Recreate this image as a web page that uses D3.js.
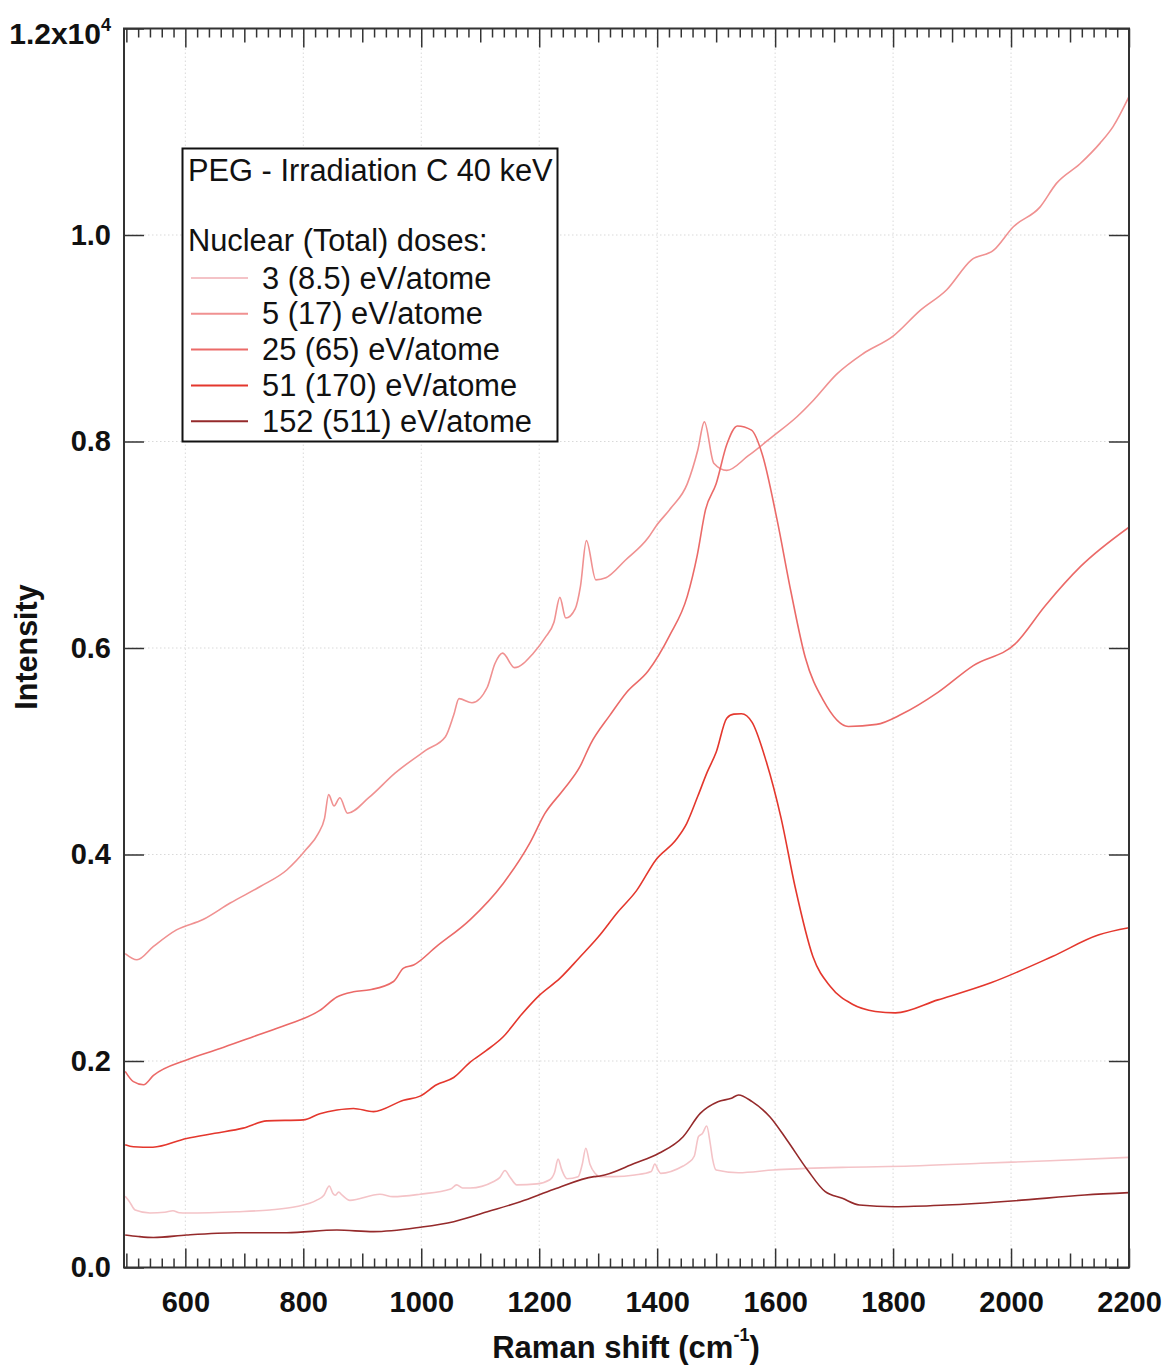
<!DOCTYPE html>
<html><head><meta charset="utf-8">
<script src="https://cdn.jsdelivr.net/npm/d3@7"></script>
<style>
body{margin:0;background:#fff;}
svg text{font-family:"Liberation Sans",Arial,Helvetica,sans-serif;}
</style>
</head><body>
<svg id="chart" width="1171" height="1367"></svg>
<script>
// ---------- DATA ----------
const legendTitle = "PEG - Irradiation C 40 keV";
const legendSubtitle = "Nuclear (Total) doses:";
const seriesLabels = ["3 (8.5) eV/atome","5 (17) eV/atome","25 (65) eV/atome","51 (170) eV/atome","152 (511) eV/atome"];
const seriesColors = ["#f4c3c7","#f09191","#eb6a68","#e4372d","#952a2b"];

const xMajorTicks = [600,800,1000,1200,1400,1600,1800,2000,2200];
const yTicks = [0,2000,4000,6000,8000,10000,12000];
const yTickLabels = ["0.0","0.2","0.4","0.6","0.8","1.0","1.2x10"];

// Raman shift (cm-1), intensity (counts)
const dose3 = [[498,690],[505,640],[515,557],[540,528],[565,535],[579,550],[590,530],[602,528],[687,540],[743,557],[789,590],[822,650],[835,700],[844,790],[850,720],[854,700],[860,730],[866,700],[879,650],[930,710],[952,686],[998,710],[1050,760],[1060,800],[1070,770],[1083,770],[1122,830],[1133,870],[1142,940],[1150,880],[1162,800],[1196,810],[1218,850],[1226,920],[1232,1050],[1238,950],[1247,860],[1266,880],[1273,1000],[1279,1155],[1286,1000],[1295,910],[1303,880],[1326,880],[1362,896],[1390,930],[1396,1002],[1402,940],[1406,912],[1444,983],[1453,1015],[1463,1080],[1470,1267],[1477,1300],[1484,1370],[1490,1200],[1494,1050],[1500,944],[1538,918],[1596,944],[1714,970],[1831,983],[1949,1009],[2066,1034],[2200,1067]];

const dose5 = [[498,3040],[518,2980],[546,3110],[585,3270],[630,3370],[676,3530],[727,3690],[772,3850],[805,4050],[825,4200],[836,4350],[843,4580],[852,4470],[862,4550],[875,4400],[911,4550],[956,4790],[1008,5010],[1041,5140],[1055,5350],[1064,5510],[1086,5470],[1112,5620],[1125,5850],[1138,5950],[1158,5810],[1190,5950],[1210,6100],[1225,6250],[1235,6490],[1245,6290],[1261,6380],[1270,6600],[1280,7040],[1296,6660],[1313,6680],[1346,6850],[1385,7070],[1398,7180],[1424,7360],[1451,7590],[1469,7920],[1480,8190],[1496,7790],[1518,7720],[1554,7860],[1596,8050],[1637,8240],[1665,8400],[1704,8650],[1749,8850],[1800,9020],[1846,9270],[1891,9470],[1933,9760],[1970,9850],[2004,10080],[2049,10270],[2077,10500],[2117,10690],[2151,10890],[2173,11050],[2200,11340]];

const dose25 = [[498,1900],[512,1800],[529,1770],[546,1860],[602,2010],[659,2120],[715,2235],[772,2350],[828,2490],[857,2620],[885,2670],[913,2690],[953,2770],[970,2900],[987,2930],[1026,3110],[1083,3370],[1139,3720],[1184,4110],[1210,4400],[1240,4620],[1269,4850],[1287,5070],[1320,5350],[1348,5570],[1385,5780],[1421,6120],[1451,6500],[1468,6900],[1482,7340],[1500,7590],[1518,7970],[1536,8150],[1560,8110],[1578,7880],[1603,7250],[1627,6540],[1651,5910],[1682,5490],[1724,5240],[1772,5260],[1815,5360],[1876,5570],[1936,5830],[2007,6040],[2058,6410],[2118,6790],[2200,7170]];

const dose51 = [[498,1190],[512,1170],[545,1165],[602,1250],[650,1300],[698,1350],[738,1420],[800,1430],[828,1490],[857,1525],[885,1540],[919,1510],[970,1620],[998,1660],[1026,1770],[1055,1840],[1083,1990],[1110,2100],[1139,2235],[1170,2450],[1201,2640],[1235,2800],[1268,3000],[1300,3200],[1333,3440],[1365,3650],[1398,3950],[1433,4150],[1450,4300],[1469,4566],[1485,4800],[1500,4990],[1518,5320],[1530,5360],[1543,5363],[1561,5280],[1585,4900],[1610,4355],[1634,3683],[1664,3012],[1694,2719],[1731,2550],[1770,2480],[1804,2466],[1876,2592],[1967,2760],[2070,3012],[2149,3222],[2200,3290]];

const dose152 = [[498,315],[520,300],[546,290],[602,315],[687,337],[772,337],[857,363],[919,347],[998,390],[1055,444],[1112,540],[1168,637],[1225,757],[1293,880],[1303,886],[1362,1009],[1403,1106],[1444,1267],[1473,1493],[1503,1606],[1526,1639],[1538,1671],[1561,1606],[1591,1460],[1620,1235],[1655,944],[1685,734],[1714,670],[1743,605],[1802,589],[1890,605],[2007,647],[2125,702],[2200,725]];

const allSeries = [dose3, dose5, dose25, dose51, dose152];

// ---------- LAYOUT ----------
const svg = d3.select("#chart");
const L = 124, R = 1129, T = 28.5, B = 1267.5;
const x = d3.scaleLinear().domain([496, 2200]).range([L, R]);
const y = d3.scaleLinear().domain([0, 12000]).range([B, T]);
const axisColor = "#333";

// grid
const grid = svg.append("g");
grid.selectAll("line.vx").data(xMajorTicks.filter(v => v < 2200)).enter().append("line")
  .attr("x1", d => x(d)).attr("x2", d => x(d)).attr("y1", T).attr("y2", B)
  .attr("stroke", "#d9d9d9").attr("stroke-width", 1).attr("stroke-dasharray", "1.5,2.5");
grid.selectAll("line.hy").data(yTicks.filter(v => v > 0 && v < 12000)).enter().append("line")
  .attr("x1", L).attr("x2", R).attr("y1", d => y(d)).attr("y2", d => y(d))
  .attr("stroke", "#d9d9d9").attr("stroke-width", 1).attr("stroke-dasharray", "1.5,2.5");

// curves
svg.append("defs").append("clipPath").attr("id", "clip")
  .append("rect").attr("x", L).attr("y", T).attr("width", R - L).attr("height", B - T);
const line = d3.line().x(d => x(d[0])).y(d => y(d[1])).curve(d3.curveMonotoneX);
svg.append("g").attr("clip-path", "url(#clip)").selectAll("path").data(allSeries).enter().append("path")
  .attr("d", line).attr("fill", "none")
  .attr("stroke", (d, i) => seriesColors[i]).attr("stroke-width", 1.6).attr("stroke-linejoin", "round");

// axes ticks
const minorX = d3.range(500, 2201, 20).filter(v => v % 100 !== 0);
const midX = d3.range(500, 2201, 100).filter(v => v % 200 !== 0);

function styleAxis(g) {
  g.select(".domain").remove();
  g.selectAll(".tick line").attr("stroke", axisColor).attr("stroke-width", 1.5);
}

// bottom
svg.append("g").attr("transform", `translate(0,${B})`)
  .call(d3.axisBottom(x).tickValues(minorX).tickSizeInner(-9).tickSizeOuter(0).tickFormat("")).call(styleAxis);
svg.append("g").attr("transform", `translate(0,${B})`)
  .call(d3.axisBottom(x).tickValues(midX).tickSizeInner(-14).tickSizeOuter(0).tickFormat("")).call(styleAxis);
const bx = svg.append("g").attr("transform", `translate(0,${B})`)
  .call(d3.axisBottom(x).tickValues(xMajorTicks).tickSizeInner(-19).tickSizeOuter(0).tickPadding(24).tickFormat(d3.format("d")))
  .call(styleAxis);
bx.selectAll("text").attr("font-size", 29).attr("font-weight", "bold").attr("fill", "#111");

// top
svg.append("g").attr("transform", `translate(0,${T})`)
  .call(d3.axisTop(x).tickValues(minorX).tickSizeInner(-9).tickSizeOuter(0).tickFormat("")).call(styleAxis);
svg.append("g").attr("transform", `translate(0,${T})`)
  .call(d3.axisTop(x).tickValues(midX).tickSizeInner(-14).tickSizeOuter(0).tickFormat("")).call(styleAxis);
svg.append("g").attr("transform", `translate(0,${T})`)
  .call(d3.axisTop(x).tickValues(xMajorTicks).tickSizeInner(-19).tickSizeOuter(0).tickFormat("")).call(styleAxis);

// left
const ly = svg.append("g").attr("transform", `translate(${L},0)`)
  .call(d3.axisLeft(y).tickValues(yTicks).tickSizeInner(-20).tickSizeOuter(0).tickPadding(13)
    .tickFormat((d, i) => yTickLabels[i]))
  .call(styleAxis);
ly.selectAll("text").attr("font-size", 29).attr("font-weight", "bold").attr("fill", "#111");
ly.selectAll(".tick").filter(d => d === 12000).select("text")
  .attr("dy", "0.5em").attr("font-size", 30)
  .append("tspan").attr("dy", "-0.75em").attr("font-size", 18).text("4");

// right
svg.append("g").attr("transform", `translate(${R},0)`)
  .call(d3.axisRight(y).tickValues(yTicks).tickSizeInner(-20).tickSizeOuter(0).tickFormat(""))
  .call(styleAxis);

// frame
svg.append("rect").attr("x", L).attr("y", T).attr("width", R - L).attr("height", B - T)
  .attr("fill", "none").attr("stroke", axisColor).attr("stroke-width", 2);

// axis titles
svg.append("text").attr("transform", "translate(37,647) rotate(-90)")
  .attr("text-anchor", "middle").attr("font-size", 30.5).attr("font-weight", "bold").attr("fill", "#111")
  .text("Intensity");
const xt = svg.append("text").attr("x", 626).attr("y", 1358)
  .attr("text-anchor", "middle").attr("font-size", 31).attr("font-weight", "bold").attr("fill", "#111");
xt.append("tspan").text("Raman shift (cm");
xt.append("tspan").attr("dy", -17).attr("font-size", 18).text("-1");
xt.append("tspan").attr("dy", 17).text(")");

// legend
const lg = svg.append("g");
lg.append("rect").attr("x", 182.5).attr("y", 148.5).attr("width", 375).attr("height", 293)
  .attr("fill", "#fff").attr("stroke", "#111").attr("stroke-width", 2);
lg.append("text").attr("x", 188).attr("y", 181).attr("font-size", 30.8).attr("fill", "#111").text(legendTitle);
lg.append("text").attr("x", 188).attr("y", 251).attr("font-size", 30.8).attr("fill", "#111").text(legendSubtitle);
const entries = lg.selectAll("g.e").data(seriesLabels).enter().append("g")
  .attr("transform", (d, i) => `translate(0,${278 + i * 35.8})`);
entries.append("line").attr("x1", 191).attr("x2", 248).attr("y1", 0).attr("y2", 0)
  .attr("stroke", (d, i) => seriesColors[i]).attr("stroke-width", 2);
entries.append("text").attr("x", 262).attr("y", 10.5).attr("font-size", 30.8).attr("fill", "#111").text(d => d);
</script>
</body></html>
